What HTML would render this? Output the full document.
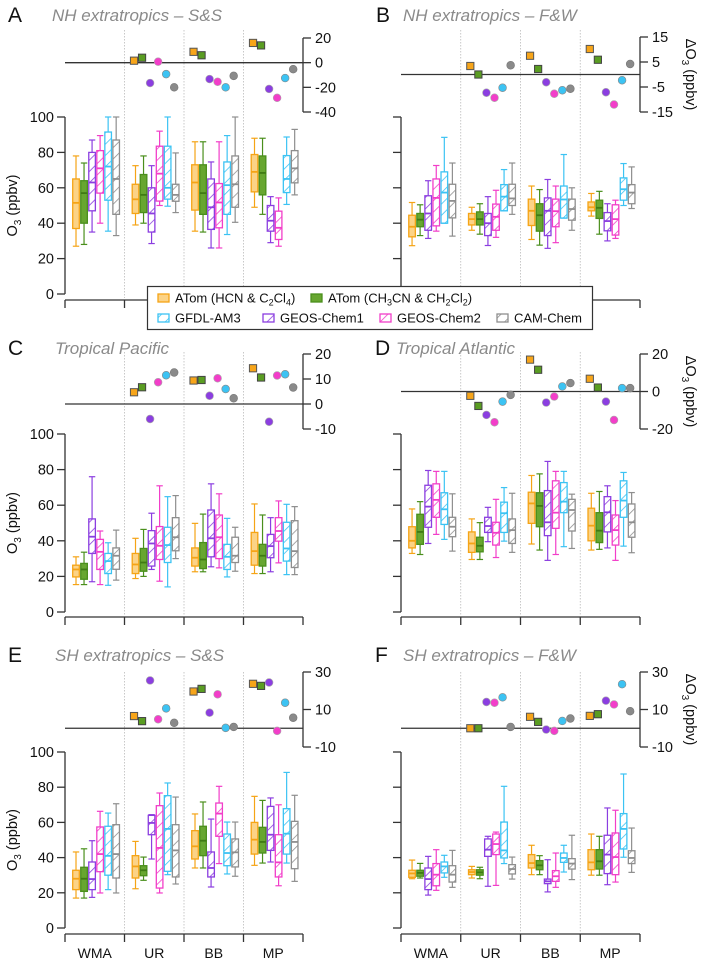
<!DOCTYPE html>
<html><head><meta charset="utf-8"><style>
html,body{margin:0;padding:0;background:#fff;}
svg{display:block;font-family:"Liberation Sans",sans-serif;}
</style></head><body>
<svg id="chart" width="705" height="965" viewBox="0 0 705 965" xmlns="http://www.w3.org/2000/svg">
<defs>
<pattern id="h-cyan" patternUnits="userSpaceOnUse" width="8" height="8" patternTransform="rotate(45)"><line x1="0" y1="0" x2="0" y2="8" stroke="#3cc3f3" stroke-width="1.6"/></pattern>
<pattern id="h-purple" patternUnits="userSpaceOnUse" width="8" height="8" patternTransform="rotate(45)"><line x1="0" y1="0" x2="0" y2="8" stroke="#8b3ee0" stroke-width="1.6"/></pattern>
<pattern id="h-pink" patternUnits="userSpaceOnUse" width="8" height="8" patternTransform="rotate(45)"><line x1="0" y1="0" x2="0" y2="8" stroke="#f23ec9" stroke-width="1.6"/></pattern>
<pattern id="h-gray" patternUnits="userSpaceOnUse" width="8" height="8" patternTransform="rotate(45)"><line x1="0" y1="0" x2="0" y2="8" stroke="#8e8e8e" stroke-width="1.6"/></pattern>
</defs>
<g id="layer"></g>
</svg>
<script>
// categories
const categories = ["WMA","UR","BB","MP"];
const seriesNames = ["ATom (HCN & C2Cl4)","ATom (CH3CN & CH2Cl2)","GFDL-AM3","GEOS-Chem1","GEOS-Chem2","CAM-Chem"];
// box stats per series: [low whisker, q1, median, q3, high whisker] for WMA, UR, BB, MP
const aOrange=[[27,37,51.5,65,78],[39,45.5,53.5,62,72.5],[35.5,47.4,63,73,86],[49,57.7,69,78.8,88]];
const aGreen=[[28,40,57,64,74],[40,46,56,67.5,78],[35,45,57,73,86],[45,56,68.4,78,88]];
const aPurple=[[35,47,63,80,87],[28.5,35,45.5,60,72.5],[26,36.5,49,65,74.6],[29,35.5,41.4,50,55]];
const aPink=[[40,57,71,81,89.5],[50,52.5,68,83.5,92],[26,37.4,51.7,62.4,86],[27,30.8,37.4,46.8,54.3]];
const aCyan=[[35.5,53,72,91.5,100],[49.6,53.6,60,83.5,100],[33.6,45,61.5,74.6,89.5],[50.6,57.3,65,78.2,88.7]];
const aGray=[[33,45,65,87,100],[46,52.4,56,62,79.7],[40.5,49,62,78,100],[56,62.8,71,81,93]];
const aDelta=[[1.6,4,-16.5,0.8,-9.3,-20],[8.8,6,-13.3,-15.5,-20,-10.7],[16,14,-21.3,-28.5,-12.5,-5.3]];

const bOrange=[[27.3,32.3,38,44.5,51.7],[36,39,42.3,45.5,49],[30.8,38.7,47,53.6,61],[44,47,49,52,56.8]];
const bGreen=[[33,38,42,45.5,50.4],[33.8,39,42.3,46.4,51],[27.6,35.5,44.5,51,59],[33.8,42.7,48.7,53,58]];
const bPurple=[[31.4,36,45.5,55.5,64],[27.4,33,40,45.5,55],[25.8,33,47,54.3,64.7],[30,35.7,41.2,46,51]];
const bPink=[[35.5,38.5,54.3,65,72.6],[32,36,43.6,50.8,58.6],[29,38,46.8,53.6,61],[31.4,33.3,42.3,50.4,53]];
const bCyan=[[40,40,57.3,69,88.5],[47,47,55,61.8,70.3],[42.9,42.9,53.4,61,78.8],[50,53,59.2,65.6,73.7]];
const bGray=[[32.7,43,52.6,62,74],[45,50,54,62,74],[36,41.7,48,53.6,60],[48.3,51,57.3,61.8,71.8]];
const bDelta=[[3.4,0,-7.3,-9.3,-5.3,3.7],[7.5,2.2,-3.1,-7.7,-6.3,-5.7],[10.2,5.9,-7.1,-12,-2.3,4.2]];

const cOrange=[[15.4,19.7,23.9,26.3,31],[18.8,21.6,26.7,32.9,41.4],[22.6,25.8,30.5,36,49.8],[21.6,26.3,34.2,44.7,60.7]];
const cGreen=[[15.4,18.4,23.9,27.3,33.6],[20,22.9,27.8,35.7,46.4],[22.6,24.4,29.5,39,55],[21.6,25.8,31.6,38,54.5]];
const cPurple=[[17,32.9,42.3,52.3,76],[23.9,25.8,38.5,45.7,55.5],[25.4,31,41.4,57.3,72],[22.6,30.5,37,43.6,53]];
const cPink=[[15.4,23.9,33.8,40.8,45.5],[17.3,29.5,37.2,48,70.9],[24.8,30,42,54.5,66.4],[27.6,39.8,45.5,53,62.4]];
const cCyan=[[15,21.6,28.6,32.9,38.9],[14.1,27.8,37.6,47.6,64.8],[19.7,23.9,31,38,52.6],[21,28.6,35.7,50.4,60.5]];
const cGray=[[17.9,24,31.6,36,46],[30,34.4,42,53,65.4],[22.9,27.8,31.6,42,47.6],[21,25,34.2,51.3,59.2]];
const cDelta=[[4.7,6.7,-6,8.7,11.5,12.6],[9.4,9.6,3.3,10.3,6,2.3],[14.3,10.6,-7.1,11.4,11.9,6.6]];

const dOrange=[[32.9,36,40,47.9,57.9],[29.5,33.5,38.5,45,52.3],[38.2,49.8,61,67.3,76.7],[34.8,40,48.5,58.3,66.7]];
const dGreen=[[32.3,38,45,54.9,62],[29.5,33.8,37.2,42,50.2],[34.8,47.9,59.6,67,77.6],[35.2,39,45.7,55.8,67.7]];
const dPurple=[[38.5,47.6,59.2,71.2,79.5],[39.5,44.7,48.3,53.2,58.8],[29,42.9,50.4,68.2,84.6],[36,45,56,64.8,70.9]];
const dPink=[[43.6,53.2,63,72,79],[30.6,37.6,44.5,50.4,63.3],[32.3,47,55.8,73.7,79],[29,37.6,46,54.5,62.6]];
const dCyan=[[40.8,49.2,57.7,67,79],[39.8,44.7,55.5,61.7,69.9],[36.7,55.8,62,72.7,79],[37,53.2,62.6,73.7,78.4]];
const dGray=[[34.2,42.3,47.9,53.2,66.4],[33.5,38.5,46,52.3,66.7],[35.7,45.5,57.3,63.3,66.2],[33.3,42,50.4,60.7,67.1]];
const dDelta=[[-2.3,-7.7,-12.5,-16.4,-5.4,-1.8],[17,11.6,-5.9,-2.7,2.7,4.5],[6.8,2.1,-5.4,-15.2,1.8,1.8]];

const eOrange=[[17,21.8,28,32.8,43.2],[22.3,28.4,35,41.1,49.2],[34.1,39.2,46.4,55.3,64.8],[35.6,42,50.2,60,74.8]];
const eGreen=[[17,20.8,28,34.5,45],[27.1,29.7,32.8,35.4,40.3],[34.1,41.1,49.6,57.8,71.6],[36.9,42.6,48.9,57.2,72.5]];
const ePurple=[[17.4,21.8,27.8,37.5,49.6],[39.2,53,59.7,64,64.4],[23.3,29,34.1,43.2,61.9],[37.5,44.1,53,69.1,73.9]];
const ePink=[[19.9,32,42,57.4,66.3],[19.9,22.7,45.5,69.5,76.7],[36.6,52.1,65,71,80.5],[24,29,37.3,53,70]];
const eCyan=[[21.8,30,41,57.8,65.3],[30.3,32.2,56.3,75.2,82.4],[30.7,35.4,42.6,53.4,60.2],[36.9,42,53.6,67.8,88.4]];
const eGray=[[19.9,28.4,42,58.7,70.6],[25,29,44.1,58.7,74.4],[29.4,34.7,43,50.6,60.2],[26.5,33.7,48.9,60.6,75.4]];
const eDelta=[[6.5,3.8,25.5,4.8,10.6,2.9],[19.6,21,8.3,18.1,0.2,0.7],[23.7,22.6,24.4,-1.4,13.6,5.6]];

const fOrange=[[28,28.8,31,32.8,38.6],[28.4,30.3,31.8,33.1,35],[30.3,34.1,36.9,41.7,47],[30,33.1,37.3,44.5,53.4]];
const fGreen=[[28.4,29.4,31.3,32.8,36.7],[28,30,31.6,33.1,34.5],[30.3,33.1,35.6,38.3,41.1],[30,33.5,37.9,44.5,52.1]];
const fPurple=[[18.7,21.8,27.8,34.1,40.7],[23.7,40.7,44.5,50.6,52.1],[20.5,25.2,26.5,27.8,38.8],[24.6,30.9,41.7,52.7,68.2]];
const fPink=[[21.4,24,30.3,36.6,44.5],[24.2,41.7,47.7,53.4,54.5],[23.1,26.5,29.4,32.6,42.6],[26.1,30.3,40.3,54,66.9]];
const fCyan=[[28.8,31.3,35,37.5,41.3],[36.6,39.8,44.1,60.2,80.5],[31.8,37.3,39.8,42.6,47],[40.2,44.9,56.3,65,87.5]];
const fGray=[[23.1,26.1,30.3,35.4,44.1],[27.8,30.7,33.5,36,40.3],[27.5,33.5,36.6,39.4,52.7],[31.6,36.6,39.8,43.9,56.8]];
const fDelta=[[0,0,14,13.6,16.5,0.7],[6.1,3.4,-0.7,-1.4,3.9,5.2],[6.6,7.5,14.7,12.7,23.5,9.1]];

// tick labels
const yTicks=[0,20,40,60,80,100];
const aDeltaTicks=[20,0,-20,-40];
const bDeltaTicks=[15,5,-5,-15];
const cDeltaTicks=[20,10,0,-10];
const dDeltaTicks=[20,0,-20];
const eDeltaTicks=[30,10,-10];
const fDeltaTicks=[30,10,-10];

const NS="http://www.w3.org/2000/svg";
const layer=document.getElementById('layer');
function mk(tag,attrs,parent){const e=document.createElementNS(NS,tag);for(const k in attrs)e.setAttribute(k,attrs[k]);(parent||layer).appendChild(e);return e;}

const styles=[
 {stroke:"#f5a416",fill:"#fcd386",med:"#f5a416",hatch:false,dfill:"#f7a51a",dstroke:"#555",shape:"sq"},
 {stroke:"#4a8f1c",fill:"#67a630",med:"#3f7a14",hatch:false,dfill:"#5a9d22",dstroke:"#444",shape:"sq"},
 {stroke:"#8b3ee0",fill:"url(#h-purple)",med:"#8b3ee0",hatch:true,dfill:"#8b3ee0",dstroke:"#aaa",shape:"c"},
 {stroke:"#f23ec9",fill:"url(#h-pink)",med:"#f23ec9",hatch:true,dfill:"#f23ec9",dstroke:"#aaa",shape:"c"},
 {stroke:"#3cc3f3",fill:"url(#h-cyan)",med:"#3cc3f3",hatch:true,dfill:"#3cc3f3",dstroke:"#888",shape:"c"},
 {stroke:"#8e8e8e",fill:"url(#h-gray)",med:"#8e8e8e",hatch:true,dfill:"#8a8a8a",dstroke:"#777",shape:"c"}
];
const panels=[
 {id:"a",letter:"A",title:"NH extratropics \u2013 S&S",x0:65,x1:303,y100:117,y0:294,dTop:38,dTopV:20,dBot:112,dBotV:-40,ticks:aDeltaTicks,bottom:300,boxes:[aOrange,aGreen,aPurple,aPink,aCyan,aGray],delta:aDelta,ylab:true,dlab:false,cats:false,lx:8,tx:52,ty:22,sepTop:30},
 {id:"b",letter:"B",title:"NH extratropics \u2013 F&W",x0:401,x1:640,y100:117,y0:294,dTop:37,dTopV:15,dBot:112,dBotV:-15,ticks:bDeltaTicks,bottom:300,boxes:[bOrange,bGreen,bPurple,bPink,bCyan,bGray],delta:bDelta,ylab:false,dlab:true,cats:false,lx:376,tx:403,ty:22,sepTop:30},
 {id:"c",letter:"C",title:"Tropical Pacific",x0:65,x1:303,y100:434,y0:612,dTop:354,dTopV:20,dBot:429,dBotV:-10,ticks:cDeltaTicks,bottom:617,boxes:[cOrange,cGreen,cPurple,cPink,cCyan,cGray],delta:cDelta,ylab:true,dlab:false,cats:false,lx:8,tx:55,ty:355,sepTop:352},
 {id:"d",letter:"D",title:"Tropical Atlantic",x0:401,x1:640,y100:434,y0:612,dTop:354,dTopV:20,dBot:429,dBotV:-20,ticks:dDeltaTicks,bottom:617,boxes:[dOrange,dGreen,dPurple,dPink,dCyan,dGray],delta:dDelta,ylab:false,dlab:true,cats:false,lx:375,tx:396,ty:355,sepTop:352},
 {id:"e",letter:"E",title:"SH extratropics \u2013 S&S",x0:65,x1:303,y100:752,y0:928,dTop:672,dTopV:30,dBot:747,dBotV:-10,ticks:eDeltaTicks,bottom:934,boxes:[eOrange,eGreen,ePurple,ePink,eCyan,eGray],delta:eDelta,ylab:true,dlab:false,cats:true,lx:8,tx:55,ty:662,sepTop:672},
 {id:"f",letter:"F",title:"SH extratropics \u2013 F&W",x0:401,x1:640,y100:752,y0:928,dTop:672,dTopV:30,dBot:747,dBotV:-10,ticks:fDeltaTicks,bottom:934,boxes:[fOrange,fGreen,fPurple,fPink,fCyan,fGray],delta:fDelta,ylab:false,dlab:true,cats:true,lx:375,tx:403,ty:662,sepTop:672}
];

panels.forEach(p=>{
 const g=mk('g',{});
 
 
 const gw=(p.x1-p.x0)/4;
 const yS=v=>p.y0-(v/100)*(p.y0-p.y100);
 const dS=v=>p.dTop+(p.dTopV-v)*(p.dBot-p.dTop)/(p.dTopV-p.dBotV);
 const gx=i=>p.x0+i*gw;
 const L=mk('text',{x:p.lx,y:p.ty,'font-size':21,fill:'#111'},g);L.textContent=p.letter;
 
 
 const T=mk('text',{x:p.tx,y:p.ty-1,'font-size':17,'font-style':'italic',fill:'#8a8a8a'},g);T.textContent=p.title;
 
 
 for(let i=1;i<4;i++){
  const s=mk('line',{x1:gx(i),x2:gx(i),y1:p.sepTop,y2:p.bottom-2,stroke:'#bbb','stroke-width':0.8,'stroke-dasharray':'1.5,1.5'},g);
  
  
 }
 const ya=mk('line',{x1:p.x0,x2:p.x0,y1:p.y100,y2:p.y0,stroke:'#333','stroke-width':1.3},g);
 
 
 yTicks.forEach(t=>{
  mk('line',{x1:p.x0-8,x2:p.x0,y1:yS(t),y2:yS(t),stroke:'#333','stroke-width':1.3},g);
  if(p.ylab){const tl=mk('text',{x:p.x0-11,y:yS(t)+5,'font-size':14.5,'text-anchor':'end',fill:'#111'},g);tl.textContent=t;
   
   }
 });
 if(p.ylab){
  const yl=mk('text',{transform:`translate(17,${(p.y100+p.y0)/2}) rotate(-90)`,'font-size':14.5,'text-anchor':'middle',fill:'#111'},g);
  yl.innerHTML='O<tspan font-size="10" dy="4">3</tspan><tspan dy="-4"> (ppbv)</tspan>';
  
  
 }
 const ba=mk('line',{x1:p.x0,x2:p.x1,y1:p.bottom,y2:p.bottom,stroke:'#333','stroke-width':1.3},g);
 
 
 for(let i=0;i<=4;i++)mk('line',{x1:gx(i),x2:gx(i),y1:p.bottom,y2:p.bottom+8,stroke:'#333','stroke-width':1.3},g);
 if(p.cats)categories.forEach((c,i)=>{const ct=mk('text',{x:gx(i)+gw/2,y:958,'font-size':14,'text-anchor':'middle',fill:'#111'},g);ct.textContent=c;
  
  });
 const da=mk('line',{x1:p.x1,x2:p.x1,y1:p.dTop,y2:p.dBot,stroke:'#333','stroke-width':1.3},g);
 
 
 p.ticks.forEach(t=>{
  mk('line',{x1:p.x1,x2:p.x1+8,y1:dS(t),y2:dS(t),stroke:'#333','stroke-width':1.3},g);
  const dt=mk('text',{x:p.x1+12,y:dS(t)+5,'font-size':14.5,fill:'#111'},g);dt.textContent=t<0?'-'+Math.abs(t):t;
  
  
 });
 if(p.dlab){
  const dl=mk('text',{transform:`translate(686,${(p.dTop+p.dBot)/2}) rotate(90)`,'font-size':14.5,'text-anchor':'middle',fill:'#111'},g);
  dl.innerHTML='\u0394O<tspan font-size="10" dy="4">3</tspan><tspan dy="-4"> (ppbv)</tspan>';
  
  
 }
 const zl=mk('line',{x1:p.x0,x2:p.x1,y1:dS(0),y2:dS(0),stroke:'#333','stroke-width':1.3},g);
 
 
 p.boxes.forEach((ser,si)=>{
  const st=styles[si];
  ser.forEach((b,gi)=>{
   const cx=gx(gi)+gw*0.185+si*gw*0.135;
   const w=6.6;
   const bg=mk('g',{},g);
   
   
   mk('line',{x1:cx,x2:cx,y1:yS(b[0]),y2:yS(b[1]),stroke:st.stroke,'stroke-width':1.2},bg);
   mk('line',{x1:cx,x2:cx,y1:yS(b[3]),y2:yS(b[4]),stroke:st.stroke,'stroke-width':1.2},bg);
   mk('line',{x1:cx-3.2,x2:cx+3.2,y1:yS(b[0]),y2:yS(b[0]),stroke:st.stroke,'stroke-width':1.2},bg);
   mk('line',{x1:cx-3.2,x2:cx+3.2,y1:yS(b[4]),y2:yS(b[4]),stroke:st.stroke,'stroke-width':1.2},bg);
   mk('rect',{x:cx-w/2,y:yS(b[3]),width:w,height:Math.max(1,yS(b[1])-yS(b[3])),fill:st.fill,stroke:st.stroke,'stroke-width':1.3},bg);
   mk('line',{x1:cx-w/2,x2:cx+w/2,y1:yS(b[2]),y2:yS(b[2]),stroke:st.med,'stroke-width':1.8},bg);
  });
 });
 p.delta.forEach((row,ri)=>{
  row.forEach((v,si)=>{
   const st=styles[si];
   const cx=gx(ri+1)+gw*0.16+si*gw*0.135;
   const cy=dS(v);
   let m;
   if(st.shape==='sq')m=mk('rect',{x:cx-3.6,y:cy-3.6,width:7.2,height:7.2,fill:st.dfill,stroke:st.dstroke,'stroke-width':1},g);
   else m=mk('circle',{cx:cx,cy:cy,r:3.9,fill:st.dfill,stroke:st.dstroke,'stroke-width':0.6},g);
   
   
  });
 });
});

const lg=mk('g',{});


mk('rect',{x:147.5,y:286.5,width:445,height:43,fill:'#fff',stroke:'#333','stroke-width':1.2},lg);
const legendItems=[
 {si:0,x:163,y:298,html:'ATom (HCN &amp; C<tspan font-size="9" dy="3">2</tspan><tspan dy="-3">Cl</tspan><tspan font-size="9" dy="3">4</tspan><tspan dy="-3">)</tspan>'},
 {si:1,x:316,y:298,html:'ATom (CH<tspan font-size="9" dy="3">3</tspan><tspan dy="-3">CN &amp; CH</tspan><tspan font-size="9" dy="3">2</tspan><tspan dy="-3">Cl</tspan><tspan font-size="9" dy="3">2</tspan><tspan dy="-3">)</tspan>'},
 {si:4,x:163,y:318,html:'GFDL-AM3'},
 {si:2,x:268,y:318,html:'GEOS-Chem1'},
 {si:3,x:385,y:318,html:'GEOS-Chem2'},
 {si:5,x:502,y:318,html:'CAM-Chem'}
];
legendItems.forEach(it=>{
 const st=styles[it.si];
 const e=mk('g',{},lg);
 
 
 mk('rect',{x:it.x-5,y:it.y-4,width:11,height:8,fill:st.fill,stroke:st.stroke,'stroke-width':1.3},e);
 const t=mk('text',{x:it.x+12,y:it.y+4.5,'font-size':13,fill:'#111'},e);
 t.innerHTML=it.html;
});
</script>
</body></html>
